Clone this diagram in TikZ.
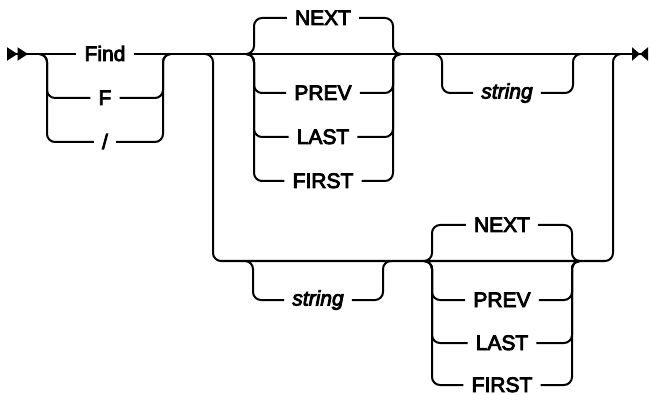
\documentclass[tikz,border=0pt]{standalone}
\usepackage{fontspec}
\setmainfont{Liberation Sans}
\newfontfamily\railfont[FakeBold=4]{Liberation Sans}
\usepackage{tikz}
\usetikzlibrary{arrows.meta, calc}
\tikzstyle{line} = [line width=2pt]
\tikzstyle{rail} = [line, rounded corners=8pt]
\tikzstyle{kw} = [inner xsep=8pt, inner ysep=0pt, text height=14pt, text depth=0pt, font=\railfont\fontsize{21}{25}\selectfont]
\tikzstyle{var} = [kw, text height=11pt, font=\railfont\fontsize{21}{25}\selectfont\itshape]

\begin{document}
\begin{tikzpicture}[x=1pt, y=-1pt]
\useasboundingbox (0,0) rectangle (650,395);
% command name
\node (find) [kw] at (105,54) {Find};
\node (f) [kw] at (105,98) {F};
\node (slash) [kw] at (105,142) {/};
% direction, top row
\node (next1) [kw] at (323,18) {NEXT};
\node (prev1) [kw] at (323,93) {PREV};
\node (last1) [kw] at (323,137) {LAST};
\node (first1) [kw] at (323,181) {FIRST};
\node (str1) [var] at (507,93) {string};
% bottom row
\node (str2) [var] at (318,300) {string};
\node (next2) [kw] at (502,225) {NEXT};
\node (prev2) [kw] at (502,300) {PREV};
\node (last2) [kw] at (502,343) {LAST};
\node (first2) [kw] at (502,385) {FIRST};
% branch points
\coordinate (begin) at (7,54);
\coordinate (finish) at (648,54);
\coordinate (a1) at (47,54);
\coordinate (a2) at (163,54);
\coordinate (b1) at (254,54);
\coordinate (b2) at (393,54);
\coordinate (t1) at (442,54);
\coordinate (t2) at (573,54);
\coordinate (c1) at (213,54);
\coordinate (c2) at (613,54);
\coordinate (d1) at (213,261);
\coordinate (d2) at (613,261);
\coordinate (e1) at (253,261);
\coordinate (e2) at (383,261);
\coordinate (g1) at (432,261);
\coordinate (g2) at (572,261);
% main line
\draw[line, {Triangle[reversed,length=10.5pt,width=13pt] Triangle[reversed,length=10.5pt,width=13pt]}-] (begin) -- (find.west);
\draw[line, -{Triangle[length=8pt,width=13pt] Triangle[reversed,length=8pt,width=13pt]}] (find.east) -- (finish);
\draw[rail] ([xshift=-8pt]c1) -- (c1) -- (d1) -- (d2) -- (c2) -- ([xshift=8pt]c2);
% Find / F / slash
\draw[rail] ([xshift=-8pt]a1) -- (a1) |- (f.west);
\draw[rail] (f.east) -| (a2) -- ([xshift=8pt]a2);
\draw[rail] ([xshift=-8pt]a1) -- (a1) |- (slash.west);
\draw[rail] (slash.east) -| (a2) -- ([xshift=8pt]a2);
% top direction
\draw[rail] ([xshift=-8pt]b1) -- (b1) |- (next1.west);
\draw[rail] (next1.east) -| (b2) -- ([xshift=8pt]b2);
\draw[rail] ([xshift=-8pt]b1) -- (b1) |- (prev1.west);
\draw[rail] (prev1.east) -| (b2) -- ([xshift=8pt]b2);
\draw[rail] ([xshift=-8pt]b1) -- (b1) |- (last1.west);
\draw[rail] (last1.east) -| (b2) -- ([xshift=8pt]b2);
\draw[rail] ([xshift=-8pt]b1) -- (b1) |- (first1.west);
\draw[rail] (first1.east) -| (b2) -- ([xshift=8pt]b2);
\draw[rail] ([xshift=-8pt]t1) -- (t1) |- (str1.west);
\draw[rail] (str1.east) -| (t2) -- ([xshift=8pt]t2);
% bottom string and direction
\draw[rail] ([xshift=-8pt]e1) -- (e1) |- (str2.west);
\draw[rail] (str2.east) -| (e2) -- ([xshift=8pt]e2);
\draw[rail] ([xshift=-8pt]g1) -- (g1) |- (next2.west);
\draw[rail] (next2.east) -| (g2) -- ([xshift=8pt]g2);
\draw[rail] ([xshift=-8pt]g1) -- (g1) |- (prev2.west);
\draw[rail] (prev2.east) -| (g2) -- ([xshift=8pt]g2);
\draw[rail] ([xshift=-8pt]g1) -- (g1) |- (last2.west);
\draw[rail] (last2.east) -| (g2) -- ([xshift=8pt]g2);
\draw[rail] ([xshift=-8pt]g1) -- (g1) |- (first2.west);
\draw[rail] (first2.east) -| (g2) -- ([xshift=8pt]g2);
\end{tikzpicture}
\end{document}
